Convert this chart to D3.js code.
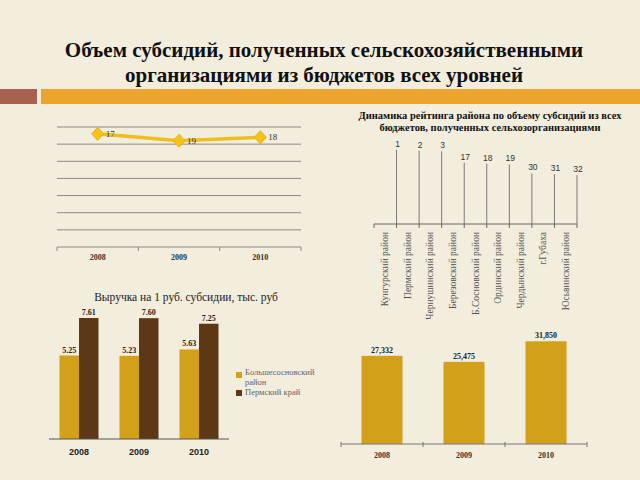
<!DOCTYPE html>
<html><head><meta charset="utf-8">
<script src="https://cdn.jsdelivr.net/npm/d3@7"></script>
<style>html,body{margin:0;padding:0;background:#f2eddd;}svg{display:block;}</style>
</head><body>
<script>
// ---- data ----
const titleLines = ["Объем субсидий, полученных сельскохозяйственными", "организациями из бюджетов всех уровней"];
const rankYears = ["2008", "2009", "2010"];
const rankValues = [17, 19, 18];
const rankTicks = [15, 20, 25, 30, 35, 40, 45, 50];

const ratingTitle = ["Динамика рейтинга района по объему субсидий из всех", "бюджетов, полученных сельхозорганизациями"];
const districts = ["Кунгурский район", "Пермский район", "Чернушинский район", "Березовский район", "Б.Сосновский район", "Ординский район", "Чердынский район", "г.Губаха", "Юсьвинский район"];
const districtRanks = [1, 2, 3, 17, 18, 19, 30, 31, 32];

const revenueTitle = "Выручка на 1 руб. субсидии, тыс. руб";
const revenueYears = ["2008", "2009", "2010"];
const revenueDistrict = [5.25, 5.23, 5.63];
const revenueKrai = [7.61, 7.60, 7.25];
const legendLabels = [["Большесосновский", "район"], ["Пермский край"]];

const subsidyYears = ["2008", "2009", "2010"];
const subsidyValues = [27332, 25475, 31850];

// ---- drawing ----
const W = 640, H = 480;
const svg = d3.select("body").append("svg").attr("width", W).attr("height", H);
svg.append("rect").attr("width", W).attr("height", H).attr("fill", "#f2eddd");
const serif = "'Liberation Serif', 'Times New Roman', serif";
const sans = "'Liberation Sans', Arial, sans-serif";

// title
svg.append("g").selectAll("text").data(titleLines).join("text")
  .attr("x", 324).attr("y", (d, i) => 57 + i * 25)
  .attr("text-anchor", "middle").attr("font-family", serif).attr("font-weight", "bold")
  .attr("font-size", 21).attr("fill", "#111").text(d => d);
// decorative bars
svg.append("rect").attr("x", 0).attr("y", 89).attr("width", 37).attr("height", 15).attr("fill", "#a8614f");
svg.append("rect").attr("x", 41).attr("y", 89).attr("width", 599).attr("height", 15).attr("fill", "#eba42e");

// ---- chart 1: rank line ----
{
  const x = d3.scaleBand().domain(rankYears).range([57, 301]);
  const y = d3.scaleLinear().domain([15, 50]).range([127, 247]);
  const g = svg.append("g");
  g.selectAll("line.grid").data(rankTicks.slice(0, -1)).join("line")
    .attr("x1", 57).attr("x2", 301).attr("y1", d => y(d)).attr("y2", d => y(d))
    .attr("stroke", "#8a8a86").attr("stroke-width", 1);
  g.append("line").attr("x1", 57).attr("x2", 301).attr("y1", y(50)).attr("y2", y(50))
    .attr("stroke", "#8a8a86").attr("stroke-width", 1);
  const bounds = rankYears.map(d => x(d)).concat([x.range()[1]]);
  g.selectAll("line.tk").data(bounds).join("line")
    .attr("x1", d => d).attr("x2", d => d).attr("y1", y(50)).attr("y2", y(50) + 4)
    .attr("stroke", "#8a8a86");
  g.selectAll("text.xl").data(rankYears).join("text")
    .attr("x", d => x(d) + x.bandwidth() / 2).attr("y", 260)
    .attr("text-anchor", "middle").attr("font-family", serif).attr("font-weight", "bold")
    .attr("font-size", 8).attr("fill", "#333").text(d => d);
  const line = d3.line().x((d, i) => x(rankYears[i]) + x.bandwidth() / 2).y(d => y(d));
  g.append("path").datum(rankValues).attr("d", line).attr("fill", "none")
    .attr("stroke", "#f0bd1c").attr("stroke-width", 3.5);
  g.selectAll("path.m").data(rankValues).join("path")
    .attr("d", (d, i) => {
      const cx = x(rankYears[i]) + x.bandwidth() / 2, cy = y(d);
      return `M${cx},${cy - 6.5}L${cx + 6},${cy}L${cx},${cy + 6.5}L${cx - 6},${cy}Z`;
    })
    .attr("fill", "#f5c417").attr("stroke", "#e8ad18").attr("stroke-width", 1);
  g.selectAll("text.v").data(rankValues).join("text")
    .attr("x", (d, i) => x(rankYears[i]) + x.bandwidth() / 2 + 8).attr("y", d => y(d) + 3)
    .attr("font-family", serif).attr("font-size", 9).attr("fill", "#333").text(d => d);
}

// ---- chart 2: district ratings ----
{
  const g = svg.append("g");
  g.selectAll("text").data(ratingTitle).join("text")
    .attr("x", 490).attr("y", (d, i) => 119 + i * 12)
    .attr("text-anchor", "middle").attr("font-family", serif).attr("font-weight", "bold")
    .attr("font-size", 10.5).attr("fill", "#111").text(d => d);
  const x = d3.scaleBand().domain(districts).range([374, 577]);
  const y = d3.scaleLinear().domain([0, 92]).range([149, 224]);
  const base = y(92);
  g.append("line").attr("x1", 374).attr("x2", 577).attr("y1", base).attr("y2", base)
    .attr("stroke", "#666").attr("stroke-width", 1);
  const bounds = [x.range()[0]].concat(districts.map(d => x(d) + x.bandwidth()));
  g.selectAll("line.tk").data(bounds).join("line")
    .attr("x1", d => d).attr("x2", d => d).attr("y1", base).attr("y2", base + 4)
    .attr("stroke", "#666");
  g.selectAll("line.v").data(districtRanks).join("line")
    .attr("x1", (d, i) => x(districts[i]) + x.bandwidth()).attr("x2", (d, i) => x(districts[i]) + x.bandwidth())
    .attr("y1", d => y(d)).attr("y2", base).attr("stroke", "#7a7a7a").attr("stroke-width", 1);
  g.selectAll("text.v").data(districtRanks).join("text")
    .attr("x", (d, i) => x(districts[i]) + x.bandwidth() + 1).attr("y", d => y(d) - 3)
    .attr("text-anchor", "middle").attr("font-family", sans).attr("font-size", 8.5)
    .attr("fill", "#333").text(d => d);
  g.selectAll("text.xl").data(districts).join("text")
    .attr("transform", d => `translate(${x(d) + x.bandwidth() / 2 + 3},${base + 8}) rotate(-90)`)
    .attr("text-anchor", "end").attr("font-family", serif).attr("font-size", 9.5)
    .attr("fill", "#555").text(d => d);
}

// ---- chart 3: revenue per ruble ----
{
  const g = svg.append("g");
  g.append("text").attr("x", 186).attr("y", 301).attr("text-anchor", "middle")
    .attr("font-family", serif).attr("font-size", 11.5).attr("fill", "#222").text(revenueTitle);
  const x0 = d3.scaleBand().domain(revenueYears).range([49, 229]);
  const x1 = d3.scaleBand().domain([0, 1]).range([0, 39]);
  const ox = (x0.bandwidth() - 39) / 2;
  const y = d3.scaleLinear().domain([0, 8]).range([439, 439 - 8 * 15.9]);
  const series = [revenueDistrict, revenueKrai];
  const colors = ["#d3a019", "#5c3817"];
  series.forEach((vals, s) => {
    g.selectAll("rect.s" + s).data(vals).join("rect")
      .attr("x", (d, i) => x0(revenueYears[i]) + ox + x1(s)).attr("width", x1.bandwidth())
      .attr("y", d => y(d)).attr("height", d => y(0) - y(d)).attr("fill", colors[s]);
    g.selectAll("text.s" + s).data(vals).join("text")
      .attr("x", (d, i) => x0(revenueYears[i]) + ox + x1(s) + x1.bandwidth() / 2).attr("y", d => y(d) - 3)
      .attr("text-anchor", "middle").attr("font-family", serif).attr("font-weight", "bold")
      .attr("font-size", 8).attr("fill", "#222").text(d => d3.format(".2f")(d));
  });
  g.append("line").attr("x1", 49).attr("x2", 229).attr("y1", y(0)).attr("y2", y(0))
    .attr("stroke", "#555").attr("stroke-width", 1);
  g.selectAll("text.xl").data(revenueYears).join("text")
    .attr("x", d => x0(d) + x0.bandwidth() / 2).attr("y", 455).attr("text-anchor", "middle")
    .attr("font-family", sans).attr("font-weight", "bold").attr("font-size", 9).attr("fill", "#222").text(d => d);
  // legend
  const lg = g.append("g");
  const ly = [373, 391];
  legendLabels.forEach((lab, i) => {
    lg.append("rect").attr("x", 236).attr("y", ly[i] - 1).attr("width", 6).attr("height", 6).attr("fill", colors[i]);
    lab.forEach((t, j) => {
      lg.append("text").attr("x", 245).attr("y", ly[i] + 4 + j * 10 - (lab.length > 1 ? 2 : 0))
        .attr("font-family", serif).attr("font-size", 8.5).attr("fill", "#666").text(t);
    });
  });
}

// ---- chart 4: subsidy volume ----
{
  const g = svg.append("g");
  const x = d3.scaleBand().domain(subsidyYears).range([341, 587]).paddingInner(0).paddingOuter(0);
  const y = d3.scaleLinear().domain([0, 35000]).range([444, 444 - 35000 * 0.003225]);
  const bw = x.bandwidth() * 0.5;
  g.selectAll("rect").data(subsidyValues).join("rect")
    .attr("x", (d, i) => x(subsidyYears[i]) + (x.bandwidth() - bw) / 2).attr("width", bw)
    .attr("y", d => y(d)).attr("height", d => y(0) - y(d)).attr("fill", "#d3a019");
  g.selectAll("text.v").data(subsidyValues).join("text")
    .attr("x", (d, i) => x(subsidyYears[i]) + x.bandwidth() / 2).attr("y", d => y(d) - 3)
    .attr("text-anchor", "middle").attr("font-family", serif).attr("font-weight", "bold")
    .attr("font-size", 8).attr("fill", "#222").text(d => d3.format(",")(d));
  g.append("line").attr("x1", 341).attr("x2", 587).attr("y1", y(0)).attr("y2", y(0))
    .attr("stroke", "#777").attr("stroke-width", 1);
  const bounds = subsidyYears.map(d => x(d)).concat([x.range()[1]]);
  g.selectAll("line.tk").data(bounds).join("line")
    .attr("x1", d => d).attr("x2", d => d).attr("y1", y(0) - 2).attr("y2", y(0) + 3).attr("stroke", "#777");
  g.selectAll("text.xl").data(subsidyYears).join("text")
    .attr("x", d => x(d) + x.bandwidth() / 2).attr("y", 458).attr("text-anchor", "middle")
    .attr("font-family", serif).attr("font-weight", "bold").attr("font-size", 8).attr("fill", "#333").text(d => d);
}
</script>
</body></html>
